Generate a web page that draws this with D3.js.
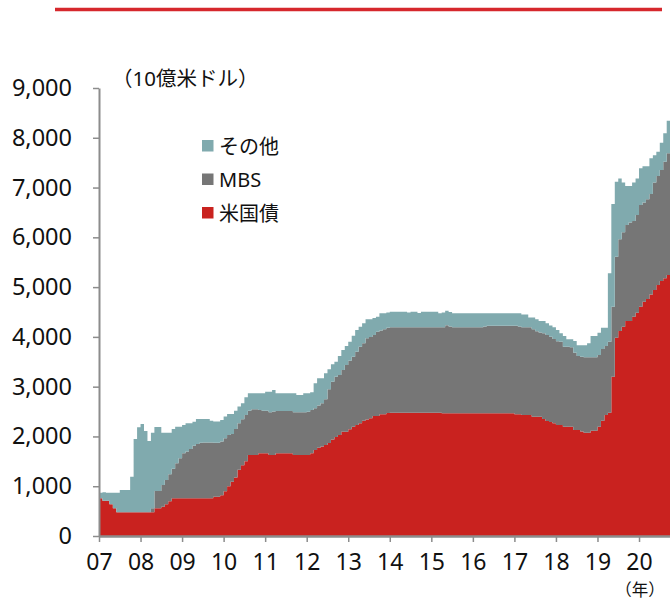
<!DOCTYPE html>
<html><head><meta charset="utf-8">
<script src="https://cdn.jsdelivr.net/npm/d3@7"></script>
<style>
body{margin:0;background:#fff}
svg{display:block}
text{font-family:"Noto Sans","Noto Sans CJK JP",sans-serif;fill:#111}
</style>
</head><body>
<svg id="c" width="670" height="600"></svg>
<script>
// ---- data (monthly, billions of USD) ----
const seriesKeys = ["ust", "mbs", "other"];
const seriesNames = ["米国債", "MBS", "その他"];
const startYear = 2007;
const yearTicks = [2007,2008,2009,2010,2011,2012,2013,2014,2015,2016,2017,2018,2019,2020];
const yearLabels = ["07","08","09","10","11","12","13","14","15","16","17","18","19","20"];
const yTicks = [0,1000,2000,3000,4000,5000,6000,7000,8000,9000];
const unitLabel = "（10億米ドル）";
const xUnitLabel = "（年）";

const ust = [
  757,710,710,636,556,476,476,476,476,476,476,476,
  476,476,476,476,556,556,589,636,700,757,757,757,
  757,757,757,757,757,757,757,757,757,790,790,820,
  900,1000,1090,1175,1330,1420,1500,1627,1627,1627,1661,1661,
  1661,1627,1627,1661,1661,1661,1661,1661,1627,1627,1627,1627,
  1627,1661,1728,1774,1800,1828,1870,1940,1990,2029,2096,2096,
  2143,2196,2230,2263,2317,2340,2364,2410,2410,2444,2444,2470,
  2477,2477,2477,2477,2477,2477,2477,2477,2477,2477,2477,2477,
  2477,2477,2477,2464,2464,2464,2464,2464,2464,2464,2464,2464,
  2464,2464,2464,2464,2464,2464,2464,2464,2464,2464,2464,2464,
  2444,2444,2430,2430,2430,2397,2397,2397,2350,2310,2290,2263,
  2230,2230,2196,2196,2196,2129,2129,2100,2075,2075,2116,2116,
  2196,2317,2430,2477,3200,3984,4118,4205,4319,4319,4405,4486,
  4606,4707,4761,4850,4942,5042,5123,5180,5243
];
const mbs = [
  0,0,0,0,0,0,0,0,0,0,0,0,
  0,0,0,80,348,348,435,489,540,593,703,803,
  904,943,991,1058,1093,1118,1123,1123,1123,1085,1085,1080,
  1062,1029,960,975,933,923,930,891,917,917,869,857,
  857,857,873,849,849,849,849,849,857,857,857,857,
  870,869,836,846,865,917,1080,1160,1210,1205,1239,1339,
  1379,1406,1473,1540,1553,1631,1636,1628,1694,1686,1707,1715,
  1715,1715,1715,1715,1715,1715,1715,1715,1715,1715,1715,1715,
  1715,1715,1715,1728,1768,1746,1728,1728,1728,1728,1728,1728,
  1728,1728,1728,1746,1761,1761,1761,1761,1761,1761,1761,1761,
  1781,1766,1762,1762,1762,1754,1714,1693,1721,1728,1714,1694,
  1680,1673,1607,1607,1594,1554,1487,1500,1514,1514,1473,1473,
  1440,1439,1387,1426,1406,1627,1842,1895,1929,1981,1923,1962,
  2043,1993,2002,2020,2158,2190,2229,2340,2444
];
const other = [
  113,170,160,234,314,394,448,448,448,714,1474,1707,
  1774,1633,1432,1519,1286,1286,1051,950,835,800,736,636,
  569,563,515,482,500,475,470,470,437,425,425,430,
  438,422,401,368,337,322,356,348,322,322,336,348,
  382,416,433,356,356,356,356,356,382,349,349,382,
  369,360,503,548,503,523,400,350,302,382,401,382,
  381,422,435,402,402,381,352,342,301,343,322,305,
  314,314,314,314,314,298,314,314,288,314,314,314,
  314,314,281,298,294,290,281,281,281,281,281,281,
  281,281,281,263,248,248,248,248,248,248,248,248,
  248,263,258,258,200,241,241,229,248,234,226,235,
  230,168,215,148,161,234,214,230,241,281,429,429,
  448,429,368,1374,2063,1506,1224,1000,783,731,772,736,
  737,730,667,717,550,488,549,569,656
];

// ---- styles ----
const colors = {ust: "#c9221f", mbs: "#767676", other: "#80aaae"};
const axisColor = "#8c8c8c";

const svg = d3.select("#c");

// top rule
svg.append("line").attr("x1", 55).attr("x2", 662).attr("y1", 9.5).attr("y2", 9.5)
  .attr("stroke", "#d6282d").attr("stroke-width", 3.5);

const x = d3.scaleLinear().domain([2007, 2021]).range([99, 680.56]);
const y = d3.scaleLinear().domain([0, 9000]).range([536, 88]);

const rows = ust.map((u, i) => ({t: startYear + i / 12, ust: u, mbs: mbs[i], other: other[i]}));
rows.push(Object.assign({}, rows[rows.length - 1], {t: startYear + rows.length / 12}));

const stacked = d3.stack().keys(seriesKeys)(rows);
const area = d3.area().curve(d3.curveStepAfter)
  .x(d => x(d.data.t)).y0(d => y(d[0])).y1(d => y(d[1]));

svg.append("g").selectAll("path").data(stacked).join("path")
  .attr("fill", d => colors[d.key]).attr("d", area);

// axes
const yAxis = d3.axisLeft(y).tickValues(yTicks).tickFormat(d3.format(","))
  .tickSize(6).tickSizeOuter(0).tickPadding(21);
const gy = svg.append("g").attr("transform", "translate(99,0)").call(yAxis);
gy.attr("font-family", null);
gy.select(".domain").attr("stroke", axisColor).attr("stroke-width", 2);
gy.selectAll(".tick line").attr("stroke", axisColor).attr("stroke-width", 1.5);
gy.selectAll(".tick text").attr("font-size", 23.5).attr("fill", "#111");

const xAxis = d3.axisBottom(x).tickValues(yearTicks).tickFormat((d, i) => yearLabels[i])
  .tickSize(6).tickSizeOuter(0).tickPadding(12);
const gx = svg.append("g").attr("transform", "translate(0,536)").call(xAxis);
gx.attr("font-family", null);
gx.select(".domain").attr("stroke", axisColor).attr("stroke-width", 2.5);
gx.selectAll(".tick line").attr("stroke", axisColor).attr("stroke-width", 1.5);
gx.selectAll(".tick text").attr("font-size", 23).attr("fill", "#111");

// unit labels
svg.append("text").attr("x", 112).attr("y", 86).attr("font-size", 20.5).text(unitLabel);
svg.append("text").attr("x", 640).attr("y", 596).attr("text-anchor", "middle")
  .attr("font-size", 16.5).text(xUnitLabel);

// legend
const legendOrder = [2, 1, 0];
const lg = svg.append("g");
legendOrder.forEach((k, j) => {
  const yy = 146 + j * 33.5;
  lg.append("rect").attr("x", 202).attr("y", yy - 6).attr("width", 11.5).attr("height", 11.5)
    .attr("fill", colors[seriesKeys[k]]);
  lg.append("text").attr("x", 219).attr("y", yy).attr("dominant-baseline", "central")
    .attr("font-size", 20).text(seriesNames[k]);
});
</script>
</body></html>
